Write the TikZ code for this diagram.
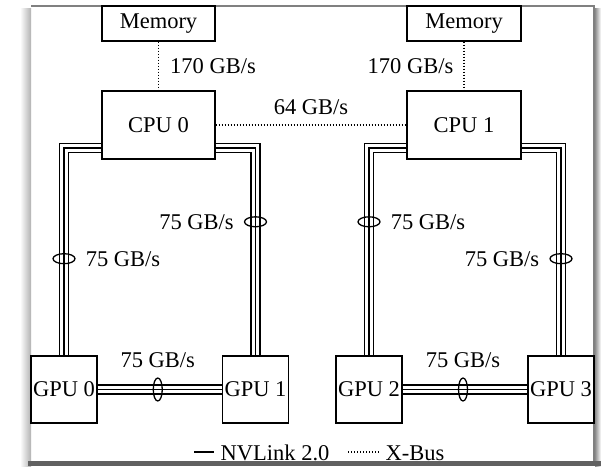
\documentclass[tikz,border=0pt]{standalone}
\usepackage{fontspec}
\setmainfont{Liberation Serif}
\usetikzlibrary{positioning,shapes.geometric}
\tikzset{
  unit/.style = {draw, line width=1.4pt, inner sep=0pt, font=\fontsize{22.5}{26}\selectfont},
  lbl/.style = {inner sep=1pt, font=\fontsize{22.5}{26}\selectfont},
  xbus/.style = {line width=1.4pt, dash pattern=on 1.4pt off 1.6pt},
  nvlink/.style = {line width=1.3pt, preaction={draw, line width=1.3pt, double, double distance=7.5pt}},
  vring/.style = {draw, ellipse, line width=1.3pt, inner sep=0pt, minimum width=22pt, minimum height=10pt},
  hring/.style = {draw, ellipse, line width=1.3pt, inner sep=0pt, minimum width=9pt, minimum height=23pt}
}

\begin{document}
\begin{tikzpicture}[x=1pt,y=-1pt]
  \useasboundingbox (0,0) rectangle (601,466);
  % page frame
  \shade[left color=white, right color=black!30] (20,8) rectangle (31,466);
  \shade[left color=black!45, right color=white] (595,8) rectangle (601,466);
  \fill[black!62] (28,461) rectangle (601,466);
  \draw[black!50, line width=1.2pt] (31,6) -- (594,6) -- (594,461);

  \node[unit, minimum width=113pt, minimum height=35pt] (mem0) at (158.5,23.5) {Memory};
  \node[unit, minimum width=114pt, minimum height=35pt] (mem1) at (464,23.5) {Memory};
  \node[unit, minimum width=113pt, minimum height=68pt] (cpu0) at (158.5,125) {CPU 0};
  \node[unit, minimum width=114pt, minimum height=68pt] (cpu1) at (464,125) {CPU 1};
  \foreach \i/\x in {0/64,1/255.5,2/369,3/561}
    \node[unit, minimum width=66pt, minimum height=67pt] (gpu\i) at (\x,389.5) {GPU \i};

  % X-Bus
  \draw[xbus] (mem0) -- node[lbl, right=10pt] {170 GB/s} (cpu0);
  \draw[xbus] (mem1) -- node[lbl, left=9pt] {170 GB/s} (cpu1);
  \draw[xbus] (cpu0) -- node[lbl, above=9pt] {64 GB/s} (cpu1);

  % NVLink 2.0
  \draw[nvlink] ([yshift=-23pt]cpu0.west) -| (gpu0.north) node[vring, pos=0.767] (r0) {};
  \draw[nvlink] ([yshift=-23pt]cpu0.east) -| (gpu1.north) node[vring, pos=0.678] (r1) {};
  \draw[nvlink] ([yshift=-23pt]cpu1.west) -| (gpu2.north) node[vring, pos=0.678] (r2) {};
  \draw[nvlink] ([yshift=-23pt]cpu1.east) -| (gpu3.north) node[vring, pos=0.767] (r3) {};
  \draw[nvlink] (gpu0) -- (gpu1) node[hring, pos=0.484] (r4) {};
  \draw[nvlink] (gpu2) -- (gpu3) node[hring, pos=0.484] (r5) {};
  \node[lbl, right=9pt of r0] {75 GB/s};
  \node[lbl, left=9pt of r1] {75 GB/s};
  \node[lbl, right=9pt of r2] {75 GB/s};
  \node[lbl, left=9pt of r3] {75 GB/s};
  \node[lbl, above=8pt of r4] {75 GB/s};
  \node[lbl, above=8pt of r5] {75 GB/s};

  % legend
  \node[lbl, anchor=base] (lnv) at (275,460) {NVLink 2.0};
  \node[lbl, anchor=base] (lxb) at (415,460) {X-Bus};
  \coordinate (nvs) at (194,452);
  \coordinate (xbs) at (348,452);
  \draw[line width=1.4pt] (nvs) -- ([xshift=-5pt]nvs -| lnv.west);
  \draw[xbus] (xbs) -- ([xshift=-6pt]xbs -| lxb.west);
\end{tikzpicture}
\end{document}
